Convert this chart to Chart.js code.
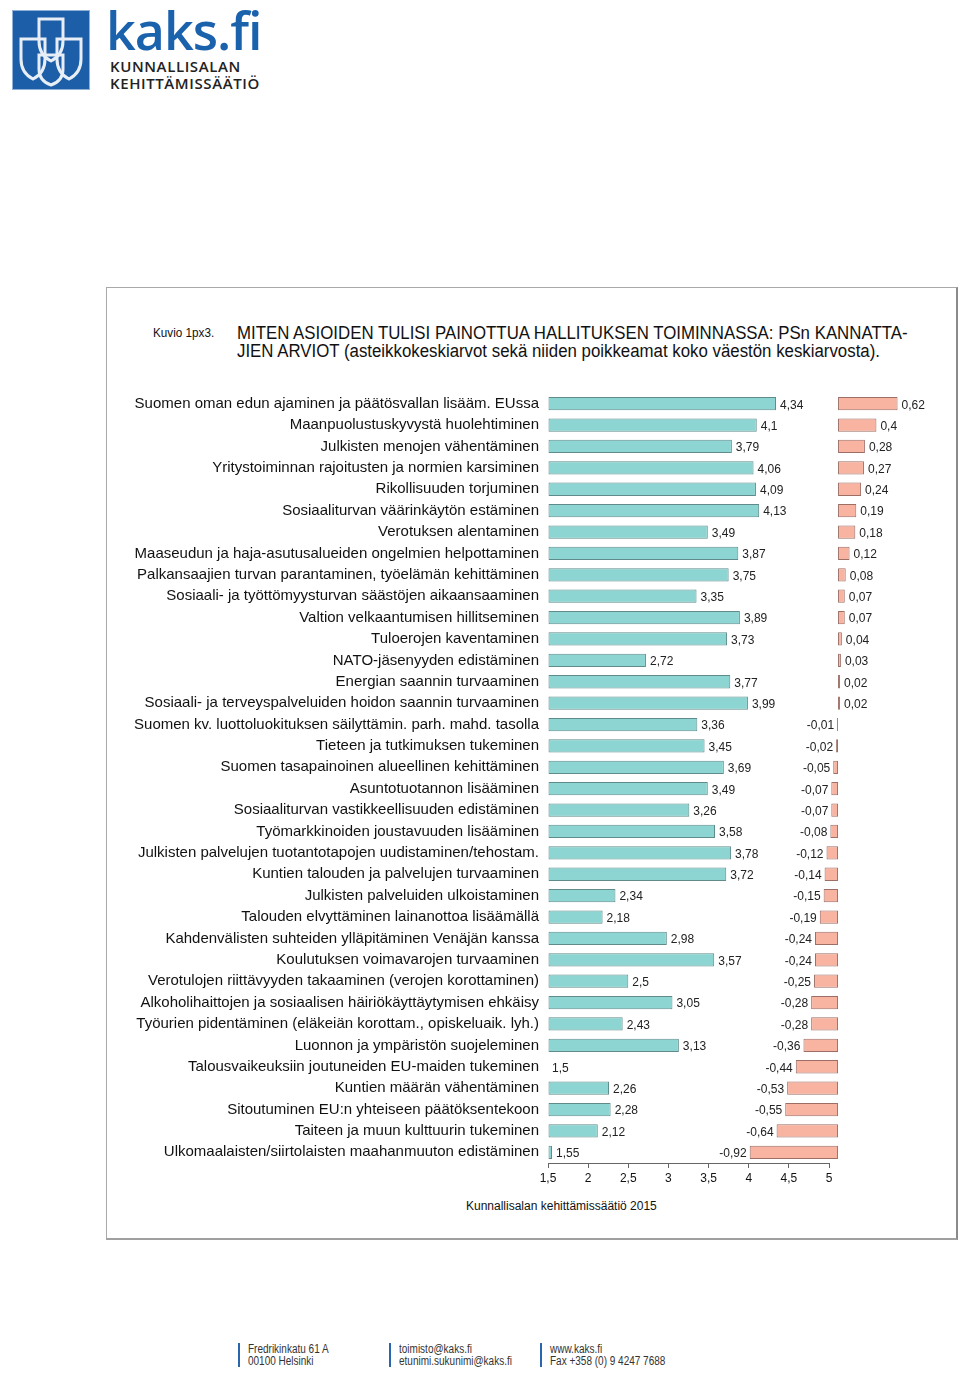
<!DOCTYPE html>
<html>
<head>
<meta charset="utf-8">
<script src="https://cdn.jsdelivr.net/npm/chart.js@4.4.1/dist/chart.umd.min.js"></script>
<style>
  body { margin: 0; background: #fff; width: 960px; height: 1376px; position: relative; overflow: hidden; font-family: "Liberation Sans", Arial, sans-serif; }
  .abs { position: absolute; }
  #logoBox { left: 12px; top: 10px; width: 78px; height: 80px; background: #1d5ea9; border: 1px solid #8fb0d8; box-sizing: border-box; }
  #brand { left: 106px; top: -6px; font-family: "Open Sans", sans-serif; font-weight: 600; font-size: 52px; color: #1b62ad; letter-spacing: -1px; }
  .org { left: 110px; font-family: "Open Sans", sans-serif; font-weight: 600; font-size: 15px; color: #222; letter-spacing: 0.6px; line-height: 17px; }
  #frame { left: 106px; top: 287px; width: 852px; height: 953px; border: 1px solid #a9a9a9; border-right: 2px solid #8a8a8a; border-bottom: 2px solid #a0a0a0; box-sizing: border-box; }
  #kuvio { left: 153px; top: 325px; font-size: 13px; color: #111; transform: scaleX(0.9); transform-origin: left top; }
  #title { left: 237px; top: 324px; font-size: 18px; line-height: 18px; color: #111; transform: scaleX(0.935); transform-origin: left top; white-space: nowrap; }
  #source { left: 466px; top: 1199px; font-size: 12px; color: #111; }
  .foot { top: 1343px; border-left: 2px solid #2a66ad; padding-left: 8px; font-size: 12.5px; line-height: 12px; color: #333; }
  .foot span { display: inline-block; transform: scaleX(0.8); transform-origin: left top; white-space: nowrap; }
  #chartWrap { left: 120px; top: 375px; }
</style>
</head>
<body>
<div id="logoBox" class="abs">
  <svg width="76" height="78" viewBox="0 0 76 78">
    <g fill="none" stroke="#e8eef6" stroke-width="3">
      <path d="M26 8 H50 V30 Q50 44 38 50 Q26 44 26 30 Z"/>
      <path d="M8 28 H32 V48 Q32 62 20 68 Q8 62 8 48 Z"/>
      <path d="M44 28 H68 V48 Q68 62 56 68 Q44 62 44 48 Z"/>
      <path d="M26 44 H50 V58 Q50 70 38 74 Q26 70 26 58 Z"/>
    </g>
  </svg>
</div>
<div id="brand" class="abs">kaks.fi</div>
<div class="abs org" style="top:58px">KUNNALLISALAN</div>
<div class="abs org" style="top:75px">KEHITTÄMISSÄÄTIÖ</div>

<div id="frame" class="abs"></div>
<div id="kuvio" class="abs">Kuvio 1px3.</div>
<div id="title" class="abs">MITEN ASIOIDEN TULISI PAINOTTUA HALLITUKSEN TOIMINNASSA: PSn KANNATTA-<br>JIEN ARVIOT (asteikkokeskiarvot sekä niiden poikkeamat koko väestön keskiarvosta).</div>
<div id="chartWrap" class="abs"><canvas id="chart" width="815" height="818"></canvas></div>
<div id="source" class="abs">Kunnallisalan kehittämissäätiö 2015</div>

<div class="abs foot" style="left:238px;width:140px"><span>Fredrikinkatu 61 A<br>00100 Helsinki</span></div>
<div class="abs foot" style="left:389px;width:140px"><span>toimisto@kaks.fi<br>etunimi.sukunimi@kaks.fi</span></div>
<div class="abs foot" style="left:540px;width:160px"><span>www.kaks.fi<br>Fax +358 (0) 9 4247 7688</span></div>

<script>
// kysymykset (ylhäältä alas)
const categories = [
  'Suomen oman edun ajaminen ja päätösvallan lisääm. EUssa',
  'Maanpuolustuskyvystä huolehtiminen',
  'Julkisten menojen vähentäminen',
  'Yritystoiminnan rajoitusten ja normien karsiminen',
  'Rikollisuuden torjuminen',
  'Sosiaaliturvan väärinkäytön estäminen',
  'Verotuksen alentaminen',
  'Maaseudun ja haja-asutusalueiden ongelmien helpottaminen',
  'Palkansaajien turvan parantaminen, työelämän kehittäminen',
  'Sosiaali- ja työttömyysturvan säästöjen aikaansaaminen',
  'Valtion velkaantumisen hillitseminen',
  'Tuloerojen kaventaminen',
  'NATO-jäsenyyden edistäminen',
  'Energian saannin turvaaminen',
  'Sosiaali- ja terveyspalveluiden hoidon saannin turvaaminen',
  'Suomen kv. luottoluokituksen säilyttämin. parh. mahd. tasolla',
  'Tieteen ja tutkimuksen tukeminen',
  'Suomen tasapainoinen alueellinen kehittäminen',
  'Asuntotuotannon lisääminen',
  'Sosiaaliturvan vastikkeellisuuden edistäminen',
  'Työmarkkinoiden joustavuuden lisääminen',
  'Julkisten palvelujen tuotantotapojen uudistaminen/tehostam.',
  'Kuntien talouden ja palvelujen turvaaminen',
  'Julkisten palveluiden ulkoistaminen',
  'Talouden elvyttäminen lainanottoa lisäämällä',
  'Kahdenvälisten suhteiden ylläpitäminen Venäjän kanssa',
  'Koulutuksen voimavarojen turvaaminen',
  'Verotulojen riittävyyden takaaminen (verojen korottaminen)',
  'Alkoholihaittojen ja sosiaalisen häiriökäyttäytymisen ehkäisy',
  'Työurien pidentäminen (eläkeiän korottam., opiskeluaik. lyh.)',
  'Luonnon ja ympäristön suojeleminen',
  'Talousvaikeuksiin joutuneiden EU-maiden tukeminen',
  'Kuntien määrän vähentäminen',
  'Sitoutuminen EU:n yhteiseen päätöksentekoon',
  'Taiteen ja muun kulttuurin tukeminen',
  'Ulkomaalaisten/siirtolaisten maahanmuuton edistäminen'
];

// PSn kannattajien asteikkokeskiarvot
const means = [4.34, 4.1, 3.79, 4.06, 4.09, 4.13, 3.49, 3.87, 3.75, 3.35, 3.89, 3.73, 2.72, 3.77, 3.99,
  3.36, 3.45, 3.69, 3.49, 3.26, 3.58, 3.78, 3.72, 2.34, 2.18, 2.98, 3.57, 2.5, 3.05, 2.43, 3.13,
  1.5, 2.26, 2.28, 2.12, 1.55];

// poikkeama koko väestön keskiarvosta
const deviations = [0.62, 0.4, 0.28, 0.27, 0.24, 0.19, 0.18, 0.12, 0.08, 0.07, 0.07, 0.04, 0.03, 0.02, 0.02,
  -0.01, -0.02, -0.05, -0.07, -0.07, -0.08, -0.12, -0.14, -0.15, -0.19, -0.24, -0.24, -0.25, -0.28, -0.28, -0.36,
  -0.44, -0.53, -0.55, -0.64, -0.92];

const axisMin = 1.5;
const axisMax = 5;
const tickStep = 0.5;

const fmt = v => String(v).replace('.', ',');

const valueLabels = {
  id: 'valueLabels',
  afterDatasetsDraw(chart) {
    const ctx = chart.ctx;
    ctx.save();
    ctx.font = '12px "Liberation Sans", Arial, sans-serif';
    ctx.fillStyle = '#222';
    ctx.textBaseline = 'middle';
    chart.data.datasets.forEach((ds, di) => {
      chart.getDatasetMeta(di).data.forEach((bar, i) => {
        const v = ds.data[i];
        if (di === 1 && v < 0) {
          ctx.textAlign = 'right';
          ctx.fillText(fmt(v), bar.x - 3, bar.y + 1.5);
        } else {
          ctx.textAlign = 'left';
          ctx.fillText(fmt(v), bar.x + 4, bar.y + 1.5);
        }
      });
    });
    ctx.restore();
  }
};

// akselin viiva vain 1,5 ... 5 välille
const axisLine = {
  id: 'axisLine',
  afterDraw(chart) {
    const x = chart.scales.x;
    const ctx = chart.ctx;
    const y = Math.round(chart.chartArea.bottom) + 0.5;
    ctx.save();
    ctx.strokeStyle = '#666';
    ctx.lineWidth = 1;
    ctx.beginPath();
    ctx.moveTo(x.getPixelForValue(axisMin), y);
    ctx.lineTo(x.getPixelForValue(axisMax), y);
    ctx.stroke();
    ctx.restore();
  }
};

new Chart(document.getElementById('chart'), {
  type: 'bar',
  data: {
    labels: categories,
    datasets: [{
      data: means,
      xAxisID: 'x',
      base: axisMin,
      backgroundColor: '#8dd5d2',
      borderColor: '#5f8c8a',
      borderWidth: 1,
      borderSkipped: false,
      grouped: false,
      barPercentage: 0.62,
      categoryPercentage: 1
    }, {
      data: deviations,
      xAxisID: 'x2',
      backgroundColor: '#f9b4a1',
      borderColor: '#9c6e66',
      borderWidth: 1,
      borderSkipped: false,
      grouped: false,
      barPercentage: 0.62,
      categoryPercentage: 1
    }]
  },
  options: {
    responsive: false,
    animation: false,
    indexAxis: 'y',
    layout: { padding: 0 },
    plugins: { legend: { display: false }, tooltip: { enabled: false } },
    scales: {
      y: {
        ticks: {
          autoSkip: false,
          padding: 9,
          color: '#111',
          font: { family: '"Liberation Sans", Arial, sans-serif', size: 15 }
        },
        grid: { display: false, drawTicks: false },
        border: { display: false },
        afterFit: s => { s.width = 428; }
      },
      x: {
        axis: 'x',
        position: 'bottom',
        min: axisMin,
        max: 6.32,
        ticks: {
          stepSize: tickStep,
          padding: 3,
          color: '#111',
          font: { family: '"Liberation Sans", Arial, sans-serif', size: 12 },
          callback: v => fmt(v)
        },
        afterBuildTicks: s => { s.ticks = s.ticks.filter(t => t.value <= axisMax + 1e-9); },
        grid: { drawOnChartArea: false, color: '#666', tickLength: 5 },
        border: { display: false },
        afterFit: s => { s.height = 30; }
      },
      x2: {
        axis: 'x',
        display: false,
        min: -3.021,
        max: 1.01
      }
    }
  },
  plugins: [valueLabels, axisLine]
});
</script>
</body>
</html>
